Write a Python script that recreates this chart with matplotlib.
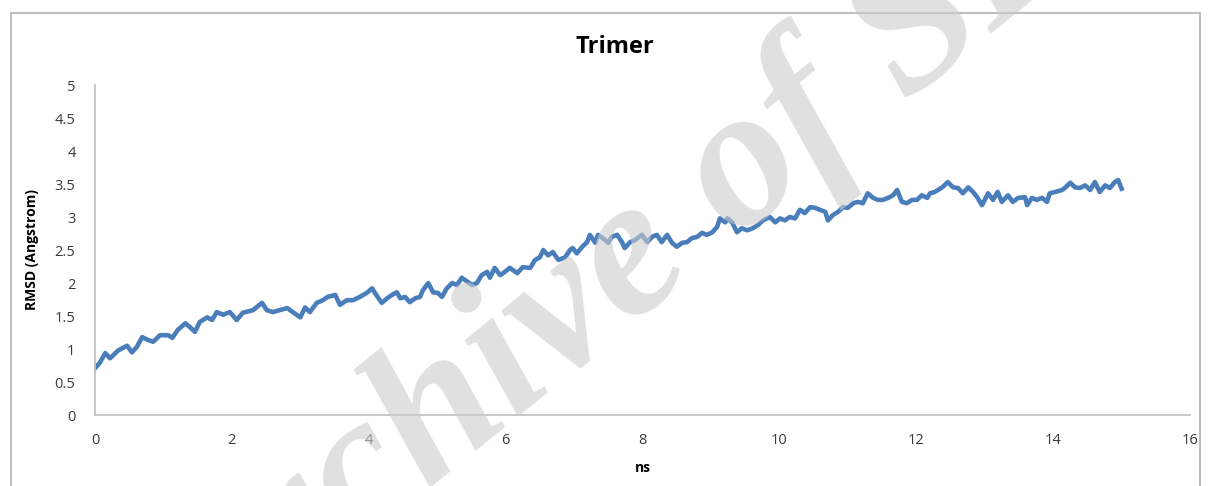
import matplotlib
matplotlib.use("Agg")
from matplotlib import pyplot as plt
from matplotlib.patches import Rectangle

# time (ns) and RMSD (Angstrom)
ns = [0.00, 0.07, 0.15, 0.22, 0.34, 0.47, 0.54, 0.61, 0.69, 0.77, 0.85, 0.95,
      1.07, 1.13, 1.21, 1.32, 1.39, 1.46, 1.53, 1.64, 1.71, 1.78, 1.87, 1.97,
      2.07, 2.16, 2.31, 2.44, 2.51, 2.60, 2.70, 2.81, 2.89, 3.00, 3.07, 3.14,
      3.24, 3.33, 3.40, 3.51, 3.58, 3.68, 3.77, 3.87, 3.97, 4.05, 4.09, 4.19,
      4.27, 4.34, 4.41, 4.46, 4.53, 4.60, 4.68, 4.75, 4.79, 4.87, 4.94, 5.01,
      5.07, 5.14, 5.22, 5.29, 5.36, 5.44, 5.51, 5.58, 5.65, 5.73, 5.77, 5.84,
      5.92, 5.99, 6.06, 6.17, 6.25, 6.36, 6.43, 6.50, 6.55, 6.62, 6.69, 6.77,
      6.87, 6.94, 6.98, 7.04, 7.12, 7.19, 7.23, 7.31, 7.35, 7.42, 7.50, 7.55,
      7.63, 7.70, 7.74, 7.82, 7.89, 7.99, 8.07, 8.14, 8.21, 8.28, 8.36, 8.43,
      8.50, 8.58, 8.65, 8.72, 8.80, 8.87, 8.94, 9.02, 9.09, 9.13, 9.21, 9.24,
      9.31, 9.38, 9.45, 9.53, 9.61, 9.69, 9.76, 9.86, 9.94, 10.01, 10.08, 10.15,
      10.23, 10.30, 10.37, 10.45, 10.52, 10.59, 10.67, 10.71, 10.78, 10.86, 10.93, 11.00,
      11.08, 11.15, 11.22, 11.29, 11.37, 11.44, 11.51, 11.59, 11.66, 11.72, 11.79, 11.86,
      11.94, 12.01, 12.08, 12.16, 12.20, 12.27, 12.38, 12.46, 12.54, 12.61, 12.68, 12.76,
      12.83, 12.89, 12.96, 13.00, 13.05, 13.12, 13.19, 13.25, 13.34, 13.41, 13.49, 13.59,
      13.62, 13.69, 13.76, 13.84, 13.91, 13.95, 14.03, 14.13, 14.17, 14.25, 14.32, 14.39,
      14.47, 14.54, 14.61, 14.68, 14.76, 14.83, 14.90, 14.95, 15.00]
rmsd = [0.71, 0.79, 0.94, 0.86, 0.98, 1.05, 0.95, 1.03, 1.18, 1.14, 1.11, 1.21,
        1.21, 1.17, 1.29, 1.39, 1.33, 1.26, 1.41, 1.48, 1.44, 1.56, 1.52, 1.56,
        1.44, 1.55, 1.59, 1.70, 1.59, 1.56, 1.59, 1.62, 1.56, 1.48, 1.63, 1.56,
        1.70, 1.74, 1.79, 1.82, 1.67, 1.74, 1.74, 1.79, 1.85, 1.92, 1.85, 1.70,
        1.77, 1.82, 1.86, 1.77, 1.79, 1.71, 1.77, 1.79, 1.89, 2.00, 1.86, 1.85,
        1.79, 1.92, 2.00, 1.97, 2.08, 2.02, 1.97, 2.00, 2.12, 2.17, 2.08, 2.23,
        2.12, 2.17, 2.23, 2.15, 2.24, 2.23, 2.35, 2.39, 2.50, 2.42, 2.47, 2.35,
        2.39, 2.50, 2.53, 2.45, 2.55, 2.62, 2.73, 2.61, 2.73, 2.68, 2.61, 2.70,
        2.73, 2.62, 2.53, 2.62, 2.65, 2.73, 2.62, 2.70, 2.73, 2.62, 2.73, 2.61,
        2.55, 2.61, 2.62, 2.68, 2.70, 2.76, 2.73, 2.77, 2.85, 2.98, 2.92, 2.98,
        2.92, 2.77, 2.83, 2.80, 2.83, 2.88, 2.95, 3.00, 2.92, 2.98, 2.95, 3.00,
        2.98, 3.11, 3.06, 3.15, 3.14, 3.11, 3.08, 2.95, 3.03, 3.08, 3.15, 3.14,
        3.21, 3.23, 3.21, 3.36, 3.29, 3.26, 3.26, 3.29, 3.33, 3.41, 3.23, 3.21,
        3.26, 3.26, 3.33, 3.29, 3.36, 3.38, 3.45, 3.53, 3.45, 3.44, 3.36, 3.45,
        3.38, 3.30, 3.18, 3.26, 3.36, 3.26, 3.38, 3.23, 3.33, 3.23, 3.29, 3.30,
        3.18, 3.29, 3.26, 3.29, 3.23, 3.36, 3.38, 3.41, 3.44, 3.52, 3.45, 3.44,
        3.48, 3.41, 3.53, 3.38, 3.48, 3.44, 3.53, 3.56, 3.43]

x_ticks = [0, 2, 4, 6, 8, 10, 12, 14, 16]
y_ticks = [0, 0.5, 1, 1.5, 2, 2.5, 3, 3.5, 4, 4.5, 5]
y_labels = ["0", "0.5", "1", "1.5", "2", "2.5", "3", "3.5", "4", "4.5", "5"]

plt.rcParams["font.family"] = ["Open Sans", "DejaVu Sans"]

fig = plt.figure(figsize=(12.1, 4.86), dpi=100)
ax = fig.add_axes([0.0785, 0.146, 0.905, 0.679])

ax.plot(ns, rmsd, color="#4a7ebb", linewidth=3.3, solid_joinstyle="round")

ax.set_xlim(0, 16)
ax.set_ylim(0, 5)
ax.set_xticks(x_ticks)
ax.set_xticklabels([str(t) for t in x_ticks])
ax.set_yticks(y_ticks)
ax.set_yticklabels(y_labels)
ax.tick_params(length=0, labelsize=10.5, labelcolor="#3a3a3a")
ax.tick_params(axis="x", pad=13)
ax.tick_params(axis="y", pad=14)

for side in ["top", "right"]:
    ax.spines[side].set_visible(False)
for side in ["left", "bottom"]:
    ax.spines[side].set_color("#bfbfbf")
    ax.spines[side].set_linewidth(1.2)

ax.set_xlabel("ns", fontsize=10, fontweight="bold", labelpad=9)
ax.set_ylabel("RMSD (Angstrom)", fontsize=10, fontweight="bold", labelpad=11)
fig.text(0.508, 0.903, "Trimer", ha="center", va="center",
         fontsize=17, fontweight="bold")

# chart area border
fig.patches.append(Rectangle((11 / 1210, -0.02), 1189 / 1210, 0.993,
                             transform=fig.transFigure, fill=False,
                             edgecolor="#bfbfbf", linewidth=1.5))

# watermark
fig.text(0.538, 0.478, "Archive of SID", ha="center", va="center",
         rotation=39, fontsize=145, fontstyle="italic", fontweight="bold",
         family="Liberation Serif", color="#cccccc", alpha=0.6, zorder=10)

fig.savefig("out.png", dpi=100)
